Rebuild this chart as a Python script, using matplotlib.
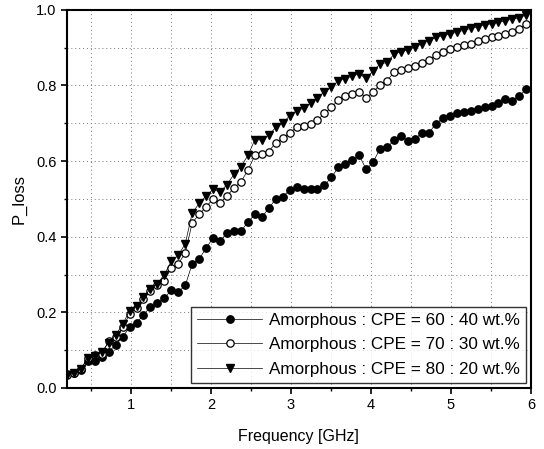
import numpy as np
import matplotlib
matplotlib.use('Agg')
import matplotlib.pyplot as plt
from matplotlib.ticker import MultipleLocator

plt.rcParams['font.family'] = ['Liberation Sans', 'DejaVu Sans']

# frecuencias de medida (GHz)
freq = [0.200, 0.287, 0.374, 0.461, 0.548, 0.635, 0.722, 0.809, 0.896, 0.983,
        1.070, 1.157, 1.244, 1.331, 1.418, 1.505, 1.592, 1.679, 1.766, 1.853,
        1.940, 2.027, 2.114, 2.201, 2.288, 2.375, 2.462, 2.549, 2.636, 2.723,
        2.810, 2.897, 2.984, 3.071, 3.158, 3.245, 3.332, 3.419, 3.506, 3.593,
        3.680, 3.767, 3.854, 3.941, 4.028, 4.115, 4.202, 4.289, 4.376, 4.463,
        4.550, 4.637, 4.724, 4.811, 4.898, 4.985, 5.072, 5.159, 5.246, 5.333,
        5.420, 5.507, 5.594, 5.681, 5.768, 5.855, 5.942]

# P_loss para cada composicion
ploss_60 = [0.037, 0.039, 0.048, 0.070, 0.070, 0.083, 0.096, 0.114, 0.134, 0.161,
            0.171, 0.194, 0.214, 0.224, 0.238, 0.258, 0.254, 0.271, 0.328, 0.341,
            0.370, 0.397, 0.388, 0.410, 0.416, 0.415, 0.438, 0.459, 0.452, 0.475,
            0.500, 0.506, 0.523, 0.532, 0.527, 0.525, 0.525, 0.536, 0.557, 0.584,
            0.593, 0.602, 0.615, 0.578, 0.598, 0.633, 0.636, 0.655, 0.667, 0.653,
            0.659, 0.674, 0.674, 0.699, 0.713, 0.718, 0.728, 0.729, 0.732, 0.739,
            0.743, 0.745, 0.755, 0.764, 0.759, 0.773, 0.790]
ploss_70 = [0.033, 0.040, 0.050, 0.078, 0.088, 0.090, 0.124, 0.135, 0.160, 0.195,
            0.212, 0.235, 0.257, 0.273, 0.284, 0.317, 0.329, 0.356, 0.437, 0.459,
            0.479, 0.500, 0.490, 0.508, 0.529, 0.545, 0.576, 0.615, 0.618, 0.625,
            0.649, 0.660, 0.675, 0.689, 0.694, 0.699, 0.709, 0.726, 0.742, 0.762,
            0.773, 0.777, 0.784, 0.767, 0.783, 0.802, 0.813, 0.835, 0.842, 0.846,
            0.851, 0.860, 0.868, 0.880, 0.889, 0.897, 0.901, 0.908, 0.911, 0.917,
            0.923, 0.927, 0.932, 0.936, 0.941, 0.950, 0.963]
ploss_80 = [0.035, 0.040, 0.050, 0.080, 0.085, 0.095, 0.120, 0.140, 0.168, 0.204,
            0.216, 0.240, 0.262, 0.276, 0.300, 0.335, 0.351, 0.381, 0.463, 0.488,
            0.508, 0.525, 0.518, 0.538, 0.565, 0.585, 0.615, 0.656, 0.656, 0.669,
            0.689, 0.700, 0.720, 0.733, 0.740, 0.753, 0.768, 0.783, 0.795, 0.813,
            0.817, 0.826, 0.830, 0.819, 0.839, 0.857, 0.861, 0.883, 0.889, 0.895,
            0.901, 0.911, 0.919, 0.927, 0.932, 0.936, 0.941, 0.946, 0.951, 0.955,
            0.961, 0.963, 0.967, 0.971, 0.976, 0.979, 0.987]

labels = ['Amorphous : CPE = 60 : 40 wt.%',
          'Amorphous : CPE = 70 : 30 wt.%',
          'Amorphous : CPE = 80 : 20 wt.%']

fig = plt.figure(figsize=(5.44, 4.49), dpi=100)
ax = fig.add_axes([0.123, 0.136, 0.853, 0.842])

ax.plot(freq, ploss_60, color='black', lw=0.5, marker='o', ms=5.3,
        mfc='black', mec='black', label=labels[0])
ax.plot(freq, ploss_70, color='black', lw=0.5, marker='o', ms=5.3,
        mfc='white', mec='black', mew=0.9, label=labels[1])
ax.plot(freq, ploss_80, color='black', lw=0.5, marker='v', ms=6.2,
        mfc='black', mec='black', label=labels[2])

ax.set_xlim(0.2, 6.0)
ax.set_ylim(0.0, 1.0)
ax.xaxis.set_major_locator(MultipleLocator(1))
ax.xaxis.set_minor_locator(MultipleLocator(0.5))
ax.yaxis.set_major_locator(MultipleLocator(0.2))
ax.yaxis.set_minor_locator(MultipleLocator(0.1))
ax.set_yticks([0.0, 0.2, 0.4, 0.6, 0.8, 1.0])
ax.set_yticklabels(['0.0', '0.2', '0.4', '0.6', '0.8', '1.0'])
ax.grid(True, which='both', linestyle=(0, (1, 3)), color='#777777', lw=0.7)
ax.tick_params(which='major', direction='out', length=4, width=1.2, labelsize=10.5)
ax.tick_params(which='minor', direction='out', length=2.5, width=1)
for s in ax.spines.values():
    s.set_linewidth(1.5)

ax.set_xlabel('Frequency [GHz]', fontsize=11.5, labelpad=12)
ax.set_ylabel('P_loss', fontsize=12, labelpad=7)

leg = ax.legend(loc='lower right', fontsize=12.3, frameon=True, fancybox=False,
                edgecolor='black', handlelength=3.8, borderpad=0.35,
                labelspacing=0.55, handletextpad=0.4, borderaxespad=0.3)
leg.get_frame().set_linewidth(1.0)

fig.savefig('out.png', dpi=100)
